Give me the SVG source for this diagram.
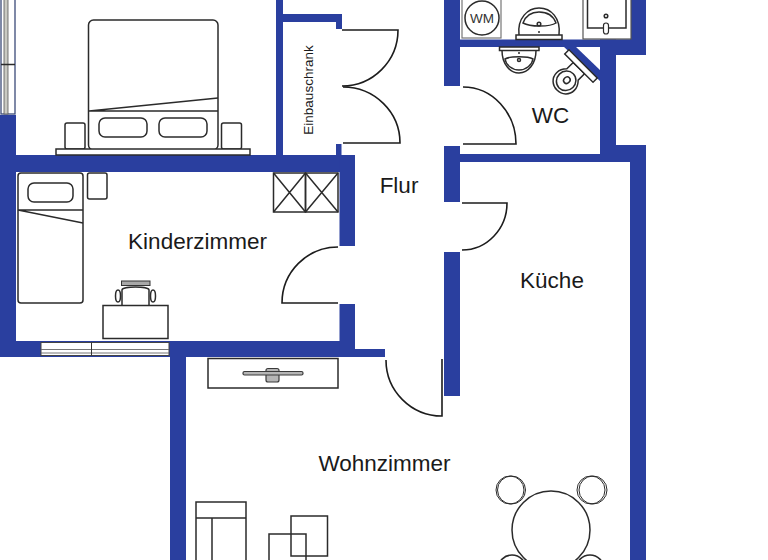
<svg xmlns="http://www.w3.org/2000/svg" width="768" height="560" viewBox="0 0 768 560">
<style>
.w{fill:#2a3f9f;stroke:none}
.l{fill:none;stroke:#2b2b2b;stroke-width:1.5}
.f{fill:#fff;stroke:#2b2b2b;stroke-width:1.5}
.d{fill:none;stroke:#1c1c1c;stroke-width:1.6}
.g{fill:#b5b5b5;stroke:#3a3a3a;stroke-width:1.2}
.t{font-family:"Liberation Sans",Arial,sans-serif;font-size:22.500px;fill:#1a1a1a;text-anchor:middle}
</style>
<rect width="768" height="560" fill="#fff"/>
<g id="walls">
<rect class="w" x="0" y="115" width="16" height="241"/>
<rect class="w" x="0" y="155" width="355" height="17"/>
<rect class="w" x="0" y="341" width="355" height="16"/>
<rect class="w" x="355" y="349" width="30" height="8"/>
<rect class="w" x="170" y="341" width="16" height="219"/>
<rect class="w" x="339.500" y="155" width="15.500" height="91"/>
<rect class="w" x="339.500" y="304" width="15.500" height="53"/>
<rect class="w" x="276" y="0" width="7" height="156"/>
<rect class="w" x="283" y="14" width="59" height="8"/>
<rect class="w" x="336" y="14" width="6" height="15"/>
<rect class="w" x="336" y="144" width="5.500" height="12"/>
<rect class="w" x="444" y="0" width="16" height="86"/>
<rect class="w" x="444" y="146" width="16" height="56"/>
<rect class="w" x="444" y="252" width="16" height="144"/>
<rect class="w" x="460" y="39.500" width="186" height="7.500"/>
<rect class="w" x="600" y="39.500" width="16" height="122"/>
<rect class="w" x="600" y="39.500" width="46" height="15.500"/>
<rect class="w" x="630" y="0" width="16" height="55"/>
<rect class="w" x="600" y="145" width="46" height="17"/>
<rect class="w" x="460" y="154" width="186" height="8"/>
<rect class="w" x="630" y="145" width="16" height="415"/>
<polygon class="w" points="563,46 575,46 601,71 601,82"/>
</g>
<g id="connectors">
<path class="d" d="M342 30H398A56 56 0 0 1 342 86"/>
<path class="d" d="M343 143H400A57 56 0 0 0 343 87"/>
<path class="d" d="M463 144H516A53 57 0 0 0 463 87"/>
<path class="d" d="M462 203H507A45 47 0 0 1 462 250"/>
<path class="d" d="M338 303H282A56 56 0 0 1 338 247"/>
<path class="d" d="M442 359V416A56 56 0 0 1 386 360"/>
</g>
<g id="schlafzimmer">
<rect class="l" x="88.500" y="20" width="129.500" height="130" rx="5"/>
<path class="l" d="M89 111L218 98M89 111H218"/>
<rect class="l" x="99" y="118" width="48" height="19" rx="6"/>
<rect class="l" x="159" y="118" width="48" height="19" rx="6"/>
<rect class="l" x="65" y="123" width="20" height="26" rx="2"/>
<rect class="l" x="221.500" y="123" width="20" height="26" rx="2"/>
<rect class="f" x="56" y="149" width="194" height="6"/>
<rect x="1" y="-2" width="14" height="116" fill="#fff" stroke="#3b4a78" stroke-width="1.300"/>
<rect x="4" y="-2" width="4" height="116" fill="#c9c9c2" stroke="#555" stroke-width="0.800"/>
<path class="l" d="M1 64.500H15"/>
</g>
<g id="einbauschrank">
<text class="t" transform="translate(313 90) rotate(-90)" style="font-size:13.500px">Einbauschrank</text>
</g>
<g id="bad">
<rect x="462" y="-2" width="39" height="40" fill="#fff" stroke="#777" stroke-width="1.200"/>
<circle class="l" cx="482" cy="18" r="17"/>
<text class="t" x="482" y="23" style="font-size:13.500px;fill:#333">WM</text>
<path class="l" d="M519 35C517 18 528 8 539 8C551 8 561 18 559 35"/>
<path class="l" d="M523 23C526 15 532 12 539 12C547 12 553 15 556 23C550 27 530 27 523 23Z"/>
<circle class="l" cx="539" cy="24" r="1.800"/>
<circle cx="539" cy="32" r="1" fill="#2b2b2b"/>
<rect class="f" x="516" y="35" width="46" height="4.500"/>
<rect x="583" y="-2" width="48" height="41" fill="#fff" stroke="#555" stroke-width="1.200"/>
<rect class="l" x="587.500" y="-2" width="38.500" height="30"/>
<circle class="l" cx="606" cy="16" r="1.800"/>
<rect x="603.500" y="23" width="5" height="11" rx="2.500" fill="#fff" stroke="#2b2b2b" stroke-width="1.200"/>
</g>
<g id="wc">
<rect class="f" x="499.500" y="47" width="39.500" height="3.500"/>
<path class="l" d="M502 50.500C502 64 510 73 519 73C528 73 536 64 536 50.500"/>
<path class="l" d="M505 59C510 56 528 56 533 59C532 65 526 70 519 70C512 70 506 65 505 59Z"/>
<circle class="l" cx="519" cy="60" r="1.500"/>
<circle cx="519" cy="53" r="1" fill="#2b2b2b"/>
<g transform="rotate(45 581 66)">
<path class="f" d="M573 69V78C570 81 568.500 84 568.500 88C568.500 95 574 100 581 100C588 100 593.500 95 593.500 88C593.500 84 592 81 589 78V69Z"/>
<ellipse class="l" cx="581" cy="87" rx="9.500" ry="10"/>
<ellipse class="l" cx="581" cy="86" rx="3" ry="3.500"/>
<rect class="f" x="561" y="63" width="40" height="6"/>
</g>
<text class="t" x="550.500" y="123">WC</text>
</g>
<g id="flur"><text class="t" x="399" y="193">Flur</text></g>
<g id="kinderzimmer">
<rect class="l" x="18" y="173" width="65" height="130" rx="3"/>
<path class="l" d="M18 210H83M18 210L83 223"/>
<rect class="l" x="28" y="183" width="45" height="19" rx="6"/>
<rect class="l" x="87.500" y="173" width="19.500" height="26" rx="2"/>
<rect class="l" x="273.500" y="173" width="32" height="39"/>
<rect class="l" x="305.500" y="173" width="32.500" height="39"/>
<path class="l" d="M273.500 173L305.500 212M305.500 173L273.500 212M305.500 173L338 212M338 173L305.500 212"/>
<rect class="l" x="103" y="305.500" width="65" height="33"/>
<path class="l" d="M122 305V290C122 286 149 286 149 290V305"/>
<rect x="121.500" y="281" width="28.500" height="4.500" fill="#a8a8a8" stroke="#333" stroke-width="1"/>
<ellipse class="l" cx="118" cy="296" rx="2.500" ry="6"/>
<ellipse class="l" cx="153" cy="296" rx="2.500" ry="6"/>
<rect x="41" y="342.500" width="128" height="13" fill="#fff" stroke="#444" stroke-width="1"/>
<path d="M41 349.500H169M41 353H169" fill="none" stroke="#666" stroke-width="0.900"/>
<path d="M91.500 342.500V355.500" stroke="#333" stroke-width="1" fill="none"/>
<text class="t" x="197.500" y="249">Kinderzimmer</text>
</g>
<g id="kueche"><text class="t" x="552" y="288">Küche</text></g>
<g id="wohnzimmer">
<rect class="l" x="208" y="358.500" width="130" height="29.500"/>
<rect class="g" x="266" y="368.500" width="13" height="13.500" rx="2"/>
<rect class="g" x="243" y="371.500" width="60" height="3.500" rx="1.500"/>
<text class="t" x="384.500" y="471">Wohnzimmer</text>
<path class="l" d="M196 562V502H246V562M196 518H246M212 518V562"/>
<rect class="l" x="291" y="516" width="36.500" height="40"/>
<path class="l" d="M269 562V534H306V562"/>
<circle cx="510" cy="490" r="14" fill="none" stroke="#2b2b2b" stroke-width="1"/>
<circle cx="511.500" cy="490" r="14" fill="none" stroke="#2b2b2b" stroke-width="1"/>
<circle cx="593" cy="490" r="14" fill="none" stroke="#2b2b2b" stroke-width="1"/>
<circle cx="591" cy="490" r="14" fill="none" stroke="#2b2b2b" stroke-width="1"/>
<circle class="l" cx="512" cy="569" r="14"/>
<circle class="l" cx="590" cy="569" r="14"/>
<circle class="f" cx="551" cy="530" r="39"/>
</g>
</svg>
